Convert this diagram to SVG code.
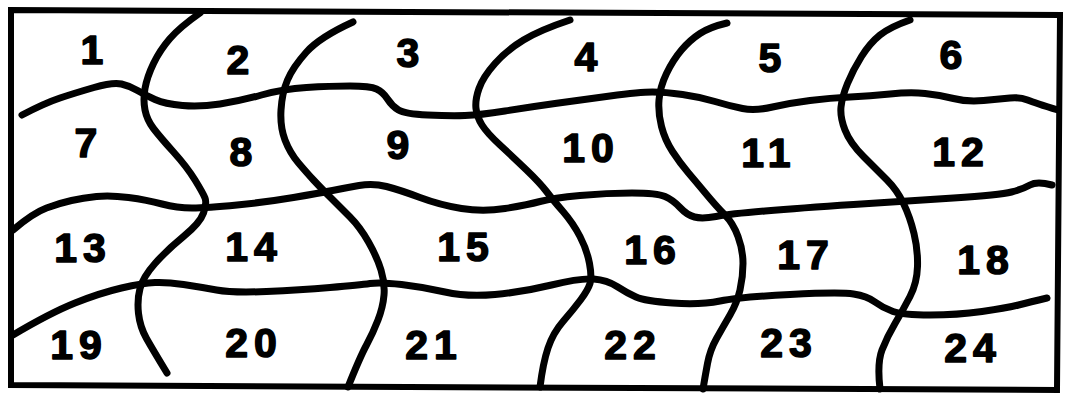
<svg xmlns="http://www.w3.org/2000/svg" width="1065" height="394" viewBox="0 0 1065 394">
<style>
.b{fill:none;stroke:#000;stroke-width:7;stroke-linecap:round;stroke-linejoin:round}
.f{fill:none;stroke:#000;stroke-width:6;stroke-linejoin:miter}
.t{font-family:"Liberation Sans",Arial,sans-serif;font-weight:bold;font-size:41px;fill:#000;stroke:#000;stroke-width:1.5;stroke-linejoin:round;text-anchor:middle;letter-spacing:6px}
</style>
<rect width="1065" height="394" fill="#fff"/>
<path class="f" d="M11 10 L1060 15 L1057 390 L11 385 Z"/>
<g id="lines">
<path class="b" d="M22 115 Q45 103 60 98 Q75 93 94 87.5 Q113 82 121.5 84 Q130 86 137.5 90.5 Q145 95 155 99.5 Q165 104 182.5 105.5 Q200 107 220 104 Q240 101 261.5 95 Q283 89 306.5 87.5 Q330 86 350 86 Q370 86 376.5 89 Q383 92 387.5 99 Q392 106 398.5 110 Q405 114 427.5 115 Q450 116 465 115.5 Q480 115 505 111 Q530 107 555 103.5 Q580 100 610 96 Q640 92 652.5 92 Q665 92 682.5 94.5 Q700 97 715 101.5 Q730 106 742.5 108.5 Q755 111 772.5 107 Q790 103 810 100.5 Q830 98 850 97 Q870 96 890 94 Q910 92 925 93.5 Q940 95 953.5 98.5 Q967 102 983.5 100.5 Q1000 99 1010 98 Q1020 97 1027.5 100 Q1035 103 1058 110"/>
<path class="b" d="M13 230 Q33 213 46.5 208 Q60 203 71.5 200.5 Q83 198 96.5 196.5 Q110 195 128.5 197.5 Q147 200 162 204 Q177 208 192 208 Q207 208 237 205 Q267 202 293.5 197.5 Q320 193 332.5 190.5 Q345 188 359 185.5 Q373 183 386.5 186.5 Q400 190 420 197.5 Q440 205 461.5 208.5 Q483 212 505 208.5 Q527 205 540 201.5 Q553 198 580 195.5 Q607 193 632 193 Q657 193 665 196.5 Q673 200 680 207.5 Q687 215 694.5 217 Q702 219 716 216.5 Q730 214 765 211 Q800 208 853.5 204.5 Q907 201 953.5 198 Q1000 195 1011.5 192 Q1023 189 1030 185 Q1037 181 1052 185"/>
<path class="b" d="M13 335 Q50 313 75 303 Q100 293 121.5 288 Q143 283 155 282.5 Q167 282 183.5 284.5 Q200 287 216.5 290 Q233 293 266.5 291.5 Q300 290 330 287.5 Q360 285 370 283.5 Q380 282 401.5 284.5 Q423 287 445 292 Q467 297 495 294.5 Q523 292 551.5 285 Q580 278 593.5 279 Q607 280 617 286.5 Q627 293 636 297 Q645 301 672.5 303 Q700 305 720 301 Q740 297 790 294.5 Q840 292 853.5 294 Q867 296 875 302 Q883 308 893 311.5 Q903 315 930 315 Q957 315 982 311.5 Q1007 308 1018.5 305 Q1030 302 1047 298"/>
<path class="b" d="M200 13 Q180 27 170 38.5 Q160 50 153.5 63.5 Q147 77 145 88.5 Q143 100 145 110 Q147 120 153.5 128.5 Q160 137 173.5 152 Q187 167 195 180 Q203 193 205 198 Q207 203 203.5 213 Q200 223 183.5 236.5 Q167 250 155 263.5 Q143 277 140 288.5 Q137 300 138.5 313.5 Q140 327 146.5 338.5 Q153 350 167 373"/>
<path class="b" d="M353 22 Q320 37 306.5 52 Q293 67 287.5 80 Q282 93 281 110 Q280 127 285 140 Q290 153 298.5 163 Q307 173 313.5 180 Q320 187 330 197 Q340 207 350 217 Q360 227 368.5 242 Q377 257 381 270 Q385 283 384 295 Q383 307 378 320 Q373 333 366.5 345 Q360 357 348 387"/>
<path class="b" d="M570 20 Q540 30 523.5 40 Q507 50 495 63.5 Q483 77 479 88.5 Q475 100 476 108.5 Q477 117 482 125 Q487 133 500 145 Q513 157 526.5 170 Q540 183 546.5 191.5 Q553 200 563 211.5 Q573 223 580 236.5 Q587 250 589.5 263.5 Q592 277 590 283.5 Q588 290 580.5 300 Q573 310 563 321.5 Q553 333 548 348 Q543 363 540 387"/>
<path class="b" d="M727 23 Q710 27 700 33.5 Q690 40 681.5 50 Q673 60 666.5 73.5 Q660 87 659 100 Q658 113 661.5 126.5 Q665 140 672.5 151.5 Q680 163 688.5 173 Q697 183 707 195 Q717 207 725 215 Q733 223 738 236.5 Q743 250 743 263.5 Q743 277 740 290 Q737 303 730 315 Q723 327 716.5 338.5 Q710 350 707.5 363.5 Q705 377 703 389"/>
<path class="b" d="M910 20 Q890 27 880 35 Q870 43 861.5 56.5 Q853 70 847.5 83.5 Q842 97 841 107 Q840 117 845 130 Q850 143 863.5 156.5 Q877 170 887 180 Q897 190 903.5 203.5 Q910 217 914 233.5 Q918 250 917.5 266.5 Q917 283 910 296.5 Q903 310 895 323.5 Q887 337 882 350 Q877 363 880 389"/>
</g>
<g id="labels">
<text class="t" x="95" y="64">1</text>
<text class="t" x="241" y="74">2</text>
<text class="t" x="411" y="67">3</text>
<text class="t" x="589" y="71">4</text>
<text class="t" x="773" y="72">5</text>
<text class="t" x="954" y="69">6</text>
<text class="t" x="89" y="157">7</text>
<text class="t" x="244" y="166">8</text>
<text class="t" x="401" y="159">9</text>
<text class="t" x="591" y="162">10</text>
<text class="t" x="769" y="167">11</text>
<text class="t" x="961" y="166">12</text>
<text class="t" x="83" y="262">13</text>
<text class="t" x="254" y="261">14</text>
<text class="t" x="466" y="261">15</text>
<text class="t" x="653" y="264">16</text>
<text class="t" x="806" y="269">17</text>
<text class="t" x="986" y="274">18</text>
<text class="t" x="79" y="359">19</text>
<text class="t" x="254" y="357">20</text>
<text class="t" x="434" y="359">21</text>
<text class="t" x="633" y="359">22</text>
<text class="t" x="789" y="357">23</text>
<text class="t" x="973" y="362">24</text>
</g>
</svg>
